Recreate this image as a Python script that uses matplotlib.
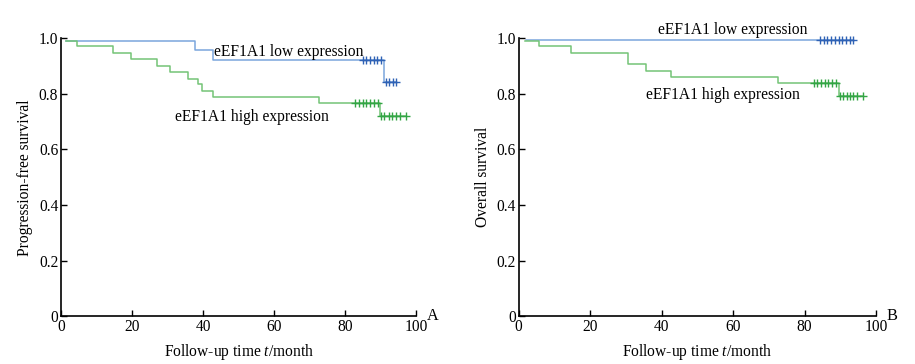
import numpy as np
import matplotlib
matplotlib.use('Agg')
import matplotlib.pyplot as plt

plt.rcParams['font.family'] = ['Liberation Serif', 'DejaVu Serif']
plt.rcParams['mathtext.fontset'] = 'custom'
plt.rcParams['mathtext.it'] = 'Liberation Serif:italic'
plt.rcParams['mathtext.rm'] = 'Liberation Serif'

# --- panel A: progression-free survival ---
a_low_t = [1.5, 37.7, 42.8, 91.1]
a_low_s = [0.99, 0.957, 0.922, 0.842]
a_low_cens = [85.1, 86.0, 87.0, 88.1, 89.1, 90.0, 91.6, 92.5, 93.5, 94.4]

a_high_t = [1.5, 4.6, 14.7, 19.7, 26.9, 30.8, 35.8, 38.6, 39.8, 42.8, 72.8, 89.9]
a_high_s = [0.99, 0.972, 0.945, 0.923, 0.901, 0.878, 0.853, 0.834, 0.810, 0.787, 0.768, 0.720]
a_high_cens = [82.9, 83.9, 85.0, 85.9, 87.1, 88.1, 89.2,
               90.2, 91.1, 92.3, 93.3, 94.4, 95.5, 97.2]

# --- panel B: overall survival ---
b_low_t = [2.0]
b_low_s = [0.992]
b_low_cens = [84.4, 85.4, 86.3, 87.4, 88.6, 89.6, 90.5, 91.5, 92.7, 93.6]

b_high_t = [1.8, 5.8, 14.7, 30.7, 35.7, 42.7, 72.7, 89.6]
b_high_s = [0.99, 0.972, 0.947, 0.905, 0.881, 0.861, 0.837, 0.792]
b_high_cens = [82.6, 83.6, 84.7, 85.7, 86.7, 87.8, 88.7,
               89.8, 90.7, 91.8, 92.8, 93.7, 94.6, 96.3]

x_ticks = [0, 20, 40, 60, 80, 100]
y_ticks = [0, 0.2, 0.4, 0.6, 0.8, 1.0]
y_ticklabels = ['0', '0.2', '0.4', '0.6', '0.8', '1.0']

BLUE_LINE, BLUE_MARK = '#7aa6dc', '#2f62b5'
GREEN_LINE, GREEN_MARK = '#74c476', '#33a545'
FS = 11.2


def km(ax, t, s, cens, lc, mc):
    end = max(cens)
    ax.step(list(t) + [end], list(s) + [s[-1]], where='post', color=lc, lw=1.1, clip_on=False)
    idx = np.searchsorted(t, cens, side='right') - 1
    ax.plot(cens, np.array(s)[idx], ls='none', marker='+', ms=5.5, mew=1.0,
            color=mc, clip_on=False)


def setup(ax, ylabel, letter):
    ax.set_xlim(0, 100)
    ax.set_ylim(0, 1.0)
    ax.spines['top'].set_visible(False)
    ax.spines['right'].set_visible(False)
    ax.spines['left'].set_linewidth(1.2)
    ax.spines['bottom'].set_linewidth(1.2)
    ax.set_xticks(x_ticks)
    ax.set_yticks(y_ticks)
    ax.set_yticklabels(y_ticklabels)
    ax.tick_params(direction='in', length=4, width=1, labelsize=FS, pad=2)
    ax.set_xlabel('Follow-up time $t$/month', fontsize=FS, labelpad=5)
    ax.set_ylabel(ylabel, fontsize=FS, labelpad=4)
    ax.text(103, 0, letter, fontsize=FS + 0.5, va='center', ha='left', clip_on=False)


fig = plt.figure(figsize=(9.15, 3.64), dpi=100)
ax1 = fig.add_axes([0.0667, 0.1305, 0.388, 0.765])
ax2 = fig.add_axes([0.5667, 0.1305, 0.3907, 0.765])

km(ax1, a_low_t, a_low_s, a_low_cens, BLUE_LINE, BLUE_MARK)
km(ax1, a_high_t, a_high_s, a_high_cens, GREEN_LINE, GREEN_MARK)
setup(ax1, 'Progression-free survival', 'A')
ax1.text(43.0, 0.951, 'eEF1A1 low expression', fontsize=FS, va='center', ha='left')
ax1.text(32.1, 0.715, 'eEF1A1 high expression', fontsize=FS, va='center', ha='left')

km(ax2, b_low_t, b_low_s, b_low_cens, BLUE_LINE, BLUE_MARK)
km(ax2, b_high_t, b_high_s, b_high_cens, GREEN_LINE, GREEN_MARK)
setup(ax2, 'Overall survival', 'B')
ax2.text(39.1, 1.03, 'eEF1A1 low expression', fontsize=FS, va='center', ha='left', clip_on=False)
ax2.text(35.7, 0.795, 'eEF1A1 high expression', fontsize=FS, va='center', ha='left')

fig.savefig('out.png', dpi=100)
